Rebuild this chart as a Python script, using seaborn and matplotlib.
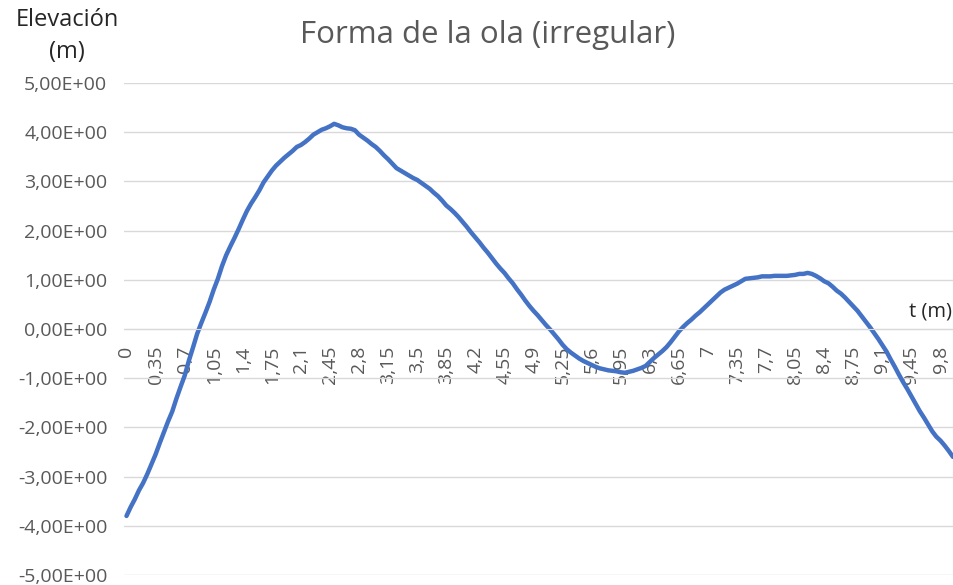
import numpy as np
import pandas as pd
import matplotlib
matplotlib.use('Agg')
import matplotlib.pyplot as plt
import seaborn as sns

# t (m) every 0.05 from 0 to 9.95
t = np.round(np.arange(200) * 0.05, 2)

elev = [
    -3.80, -3.62, -3.46, -3.28, -3.13, -2.95, -2.75, -2.55, -2.32, -2.10,
    -1.88, -1.68, -1.42, -1.18, -0.95, -0.65, -0.38, -0.10, 0.12, 0.33,
    0.55, 0.80, 1.02, 1.28, 1.50, 1.68, 1.85, 2.03, 2.22, 2.40,
    2.55, 2.68, 2.82, 2.98, 3.10, 3.22, 3.32, 3.40, 3.48, 3.55,
    3.62, 3.70, 3.74, 3.80, 3.87, 3.95, 4.00, 4.05, 4.08, 4.12,
    4.17, 4.14, 4.10, 4.08, 4.07, 4.04, 3.95, 3.89, 3.83, 3.76,
    3.70, 3.62, 3.53, 3.45, 3.36, 3.27, 3.22, 3.17, 3.12, 3.07,
    3.03, 2.97, 2.91, 2.85, 2.77, 2.70, 2.61, 2.51, 2.44, 2.36,
    2.27, 2.17, 2.07, 1.96, 1.86, 1.76, 1.65, 1.55, 1.44, 1.33,
    1.23, 1.14, 1.03, 0.93, 0.81, 0.70, 0.58, 0.47, 0.37, 0.28,
    0.18, 0.08, -0.01, -0.11, -0.21, -0.32, -0.41, -0.48, -0.54, -0.60,
    -0.65, -0.69, -0.73, -0.77, -0.80, -0.82, -0.84, -0.85, -0.86, -0.88,
    -0.89, -0.87, -0.85, -0.82, -0.79, -0.75, -0.67, -0.59, -0.52, -0.45,
    -0.37, -0.27, -0.16, -0.05, 0.04, 0.12, 0.19, 0.27, 0.34, 0.42,
    0.50, 0.58, 0.66, 0.74, 0.80, 0.84, 0.88, 0.92, 0.97, 1.02,
    1.03, 1.04, 1.05, 1.07, 1.07, 1.07, 1.08, 1.08, 1.08, 1.08,
    1.09, 1.10, 1.12, 1.12, 1.14, 1.12, 1.08, 1.03, 0.97, 0.93,
    0.86, 0.78, 0.72, 0.64, 0.55, 0.46, 0.37, 0.26, 0.15, 0.04,
    -0.08, -0.20, -0.33, -0.46, -0.62, -0.77, -0.93, -1.08, -1.22, -1.37,
    -1.52, -1.67, -1.80, -1.94, -2.08, -2.19, -2.27, -2.37, -2.48, -2.60,
]

df = pd.DataFrame({'t': t, 'elev': elev})

y_ticks = [-5, -4, -3, -2, -1, 0, 1, 2, 3, 4, 5]
x_ticks = t[::7]

sns.set_style('white')
plt.rcParams['font.family'] = ['Open Sans', 'DejaVu Sans']

fig = plt.figure(figsize=(9.54, 5.85), dpi=100)
ax = fig.add_axes([124 / 954, 1 - 575 / 585, (953 - 124) / 954, (575 - 83) / 585])

sns.lineplot(data=df, x='t', y='elev', ax=ax, color='#4472C4', linewidth=3.2)

for s in ['top', 'right', 'left']:
    ax.spines[s].set_visible(False)
# x axis crosses at 0 (this resets ticks, so do it before labelling)
ax.spines['bottom'].set_position(('data', 0))
ax.spines['bottom'].set_color('#D9D9D9')

ax.set_xlim(-0.03, 9.95)
ax.set_ylim(-5, 5)
ax.set_yticks(y_ticks)
ax.set_yticklabels([('%.2E' % v).replace('.', ',') for v in y_ticks])
ax.set_xticks(x_ticks)
ax.set_xticklabels([('%g' % v).replace('.', ',') for v in x_ticks], rotation=90, va='top', ha='center')

ax.grid(axis='y', color='#D9D9D9', linewidth=1)
ax.grid(axis='x', visible=False)
ax.tick_params(axis='y', length=0, pad=12, labelsize=14, labelcolor='#595959')
ax.tick_params(axis='x', length=0, pad=12, labelsize=14, labelcolor='#595959')
ax.set_xlabel('')
ax.set_ylabel('')

fig.text(488 / 954, 1 - 35 / 585, 'Forma de la ola (irregular)', ha='center', va='center',
         fontsize=22.5, color='#595959')
fig.text(67 / 954, 1 - 36 / 585, 'Elevación\n(m)', ha='center', va='center',
         fontsize=17, color='#262626', linespacing=1.4)
fig.text(952 / 954, 1 - 311 / 585, 't (m)', ha='right', va='center',
         fontsize=14.5, color='#262626')

fig.savefig('out.png', dpi=100)
